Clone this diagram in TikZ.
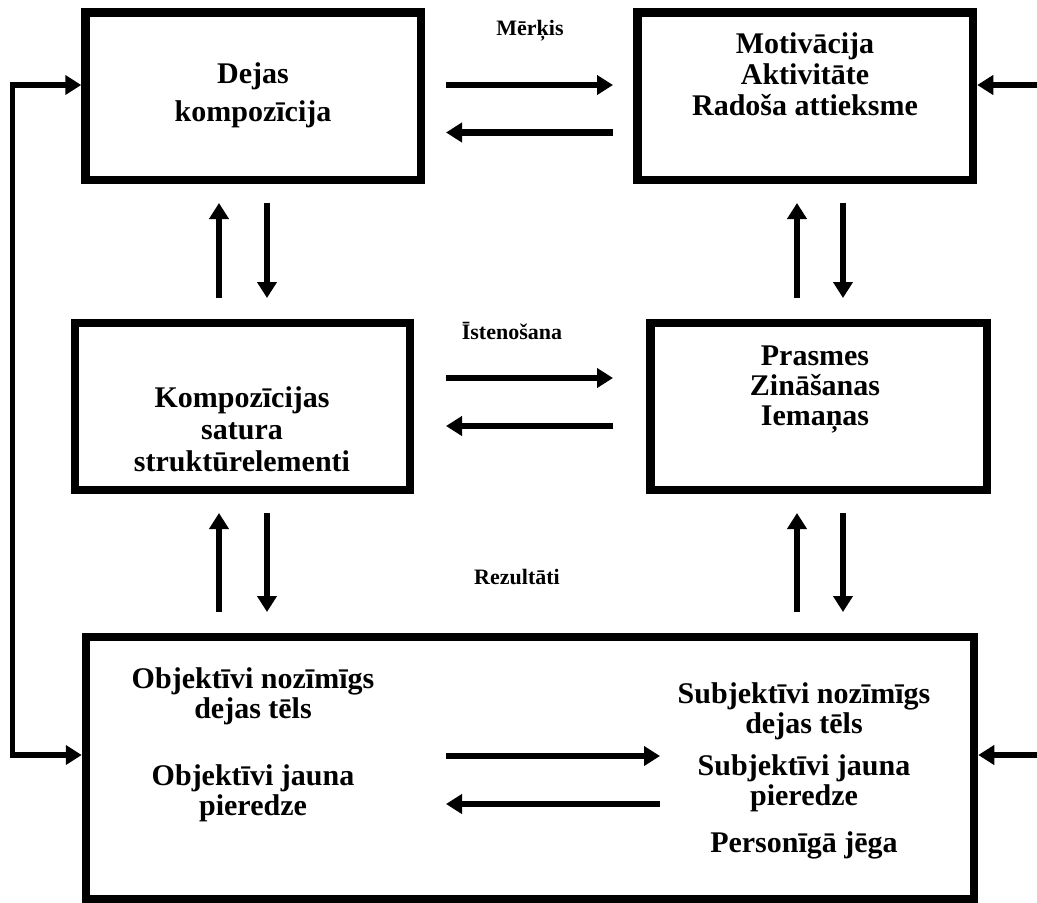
\documentclass[tikz,border=0pt]{standalone}
\usepackage{fontspec}
\setmainfont{Liberation Serif}
\usetikzlibrary{arrows.meta}

\begin{document}
\begin{tikzpicture}[x=1pt,y=-1pt,
  box/.style={draw, line width=8.5pt, inner sep=0pt},
  txt/.style={font=\fontsize{30}{30}\selectfont\bfseries, align=center, anchor=base, inner sep=0pt},
  lbl/.style={font=\fontsize{22}{22}\selectfont\bfseries, anchor=base, inner sep=0pt},
  arr/.style={line width=6.5pt, -{Triangle[length=16pt,width=19pt]}},
  loop/.style={line width=5.5pt, {Triangle[length=16pt,width=19pt]}-{Triangle[length=16pt,width=19pt]}},
]
\useasboundingbox (0,0) rectangle (1037,903);
\fill[white] (0,0) rectangle (1037,903);

% boxes
\node[box, minimum width=335.5pt, minimum height=167.5pt] (b1) at (253.25,96.25) {};
\node[box, minimum width=335.5pt, minimum height=167.5pt] (b2) at (805.25,96.25) {};
\node[box, minimum width=335pt, minimum height=167pt] (b3) at (242.5,406.5) {};
\node[box, minimum width=336.5pt, minimum height=167pt] (b4) at (818.75,406.5) {};
\node[box, minimum width=888pt, minimum height=262.5pt] (b5) at (530,768.25) {};

% box texts (anchored at the baseline of their last line)
\node[txt, font=\fontsize{30}{38}\selectfont\bfseries] (t1) at (253,121) {Dejas\\kompozīcija};
\node[txt, font=\fontsize{30}{31}\selectfont\bfseries] (t2) at (805,115) {Motivācija\\Aktivitāte\\Radoša attieksme};
\node[txt, font=\fontsize{30}{32}\selectfont\bfseries] (t3) at (242,471) {Kompozīcijas\\satura\\struktūrelementi};
\node[txt] (t4) at (815,425) {Prasmes\\Zināšanas\\Iemaņas};
\node[txt] (t5a) at (253,718) {Objektīvi nozīmīgs\\dejas tēls};
\node[txt] (t5b) at (253,815) {Objektīvi jauna\\pieredze};
\node[txt] (t5c) at (804,733) {Subjektīvi nozīmīgs\\dejas tēls};
\node[txt] (t5d) at (804,805) {Subjektīvi jauna\\pieredze};
\node[txt] (t5e) at (804,852) {Personīgā jēga};

% labels
\node[lbl] (l1) at (530,35) {Mērķis};
\node[lbl] (l2) at (512,339) {Īstenošana};
\node[lbl] (l3) at (517,584) {Rezultāti};

% horizontal arrow ends
\coordinate (h1a) at (446,85);    \coordinate (h1b) at (613,85);
\coordinate (h2a) at (446,132.5); \coordinate (h2b) at (613,132.5);
\coordinate (h3a) at (446,378);   \coordinate (h3b) at (613,378);
\coordinate (h4a) at (446,426);   \coordinate (h4b) at (613,426);
\coordinate (h5a) at (446,756);   \coordinate (h5b) at (660,756);
\coordinate (h6a) at (446,804);   \coordinate (h6b) at (660,804);
\draw[arr] (h1a) -- (h1b);
\draw[arr] (h2b) -- (h2a);
\draw[arr] (h3a) -- (h3b);
\draw[arr] (h4b) -- (h4a);
\draw[arr] (h5a) -- (h5b);
\draw[arr] (h6b) -- (h6a);

% vertical arrow ends
\coordinate (v1t) at (219,203); \coordinate (v1b) at (219,298);
\coordinate (v2t) at (267,203); \coordinate (v2b) at (267,298);
\coordinate (v3t) at (797,203); \coordinate (v3b) at (797,298);
\coordinate (v4t) at (843,203); \coordinate (v4b) at (843,298);
\coordinate (v5t) at (219,513); \coordinate (v5b) at (219,612);
\coordinate (v6t) at (267,513); \coordinate (v6b) at (267,612);
\coordinate (v7t) at (797,513); \coordinate (v7b) at (797,612);
\coordinate (v8t) at (843,513); \coordinate (v8b) at (843,612);
\draw[arr] (v1b) -- (v1t);
\draw[arr] (v2t) -- (v2b);
\draw[arr] (v3b) -- (v3t);
\draw[arr] (v4t) -- (v4b);
\draw[arr] (v5b) -- (v5t);
\draw[arr] (v6t) -- (v6b);
\draw[arr] (v7b) -- (v7t);
\draw[arr] (v8t) -- (v8b);

% feedback loop on the left
\coordinate (lt) at (12.5,85);
\coordinate (lb) at (12.5,755);
\draw[loop] (lt -| b1.west) -- (lt) -- (lb) -- (lb -| b5.west);

% inputs from the right
\coordinate (r1) at (1037,85);
\coordinate (r2) at (1037,755);
\draw[arr] (r1) -- (r1 -| b2.east);
\draw[arr] (r2) -- (r2 -| b5.east);
\end{tikzpicture}
\end{document}
